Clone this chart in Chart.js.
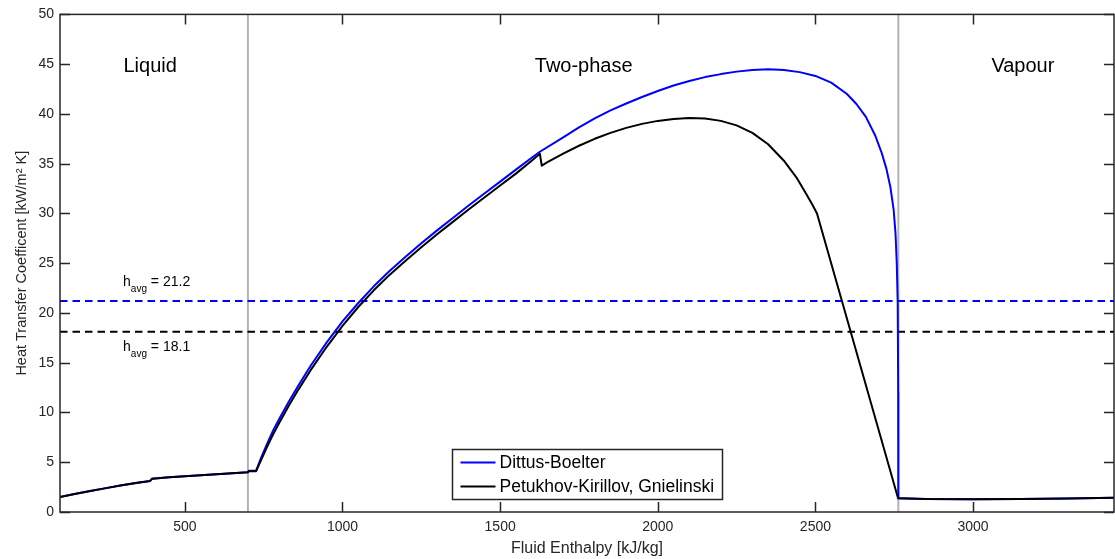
<!DOCTYPE html>
<html>
<head>
<meta charset="utf-8">
<script src="https://cdn.jsdelivr.net/npm/chart.js@4.4.0/dist/chart.umd.min.js"></script>
<style>
  html, body { margin: 0; padding: 0; background: #fff; }
  #wrap { width: 1115px; height: 559px; }
</style>
</head>
<body>
<div id="wrap"><canvas id="chart" width="1115" height="559"></canvas></div>
<script>
// values
// enthalpy in kJ/kg, heat transfer coefficient in kW/m2 K
const dbEnthalpy = [104, 150, 200, 250, 300, 350, 390, 396, 450, 500, 550, 600, 650, 700, 703, 726,
  740, 760, 780, 800, 830, 860, 900, 950, 1000, 1050, 1100, 1150, 1200, 1250, 1300, 1350, 1400,
  1450, 1500, 1550, 1600, 1626, 1700, 1750, 1800, 1850, 1900, 1950, 2000, 2050, 2100, 2150, 2200,
  2250, 2300, 2350, 2400, 2450, 2500, 2550, 2600, 2630, 2660, 2690, 2710, 2725, 2738, 2748, 2754,
  2758, 2761, 2762.5, 2763, 2850, 3000, 3150, 3300, 3447];
const dbHtc = [1.5, 1.8, 2.1, 2.4, 2.68, 2.93, 3.12, 3.35, 3.5, 3.6, 3.7, 3.8, 3.9, 4.0, 4.15, 4.15,
  5.3, 6.8, 8.2, 9.4, 11.1, 12.7, 14.75, 17.05, 19.15, 21.0, 22.7, 24.25, 25.65, 27.0, 28.3, 29.55, 30.8,
  32.0, 33.2, 34.4, 35.6, 36.2, 37.65, 38.65, 39.55, 40.35, 41.05, 41.7, 42.3, 42.85, 43.3, 43.7, 44.0,
  44.25, 44.42, 44.5, 44.42, 44.2, 43.82, 43.15, 42.0, 41.0, 39.7, 37.8, 36.1, 34.5, 32.6, 30.4, 28.0,
  25.0, 21.0, 12.0, 1.35, 1.3, 1.28, 1.3, 1.35, 1.42];

const pkEnthalpy = [104, 150, 200, 250, 300, 350, 390, 396, 450, 500, 550, 600, 650, 700, 703, 726,
  740, 760, 780, 800, 830, 860, 900, 950, 1000, 1050, 1100, 1150, 1200, 1250, 1300, 1350, 1400,
  1450, 1500, 1550, 1600, 1626, 1632, 1650, 1700, 1750, 1800, 1850, 1900, 1950, 2000, 2050, 2100,
  2150, 2200, 2250, 2300, 2350, 2400, 2440, 2470, 2490, 2505, 2762, 2850, 3000, 3150, 3300, 3447];
const pkHtc = [1.5, 1.8, 2.1, 2.4, 2.68, 2.93, 3.12, 3.35, 3.5, 3.6, 3.7, 3.8, 3.9, 4.0, 4.1, 4.1,
  5.1, 6.5, 7.8, 9.0, 10.7, 12.3, 14.3, 16.6, 18.7, 20.6, 22.3, 23.85, 25.25, 26.6, 27.9, 29.15, 30.4,
  31.6, 32.8, 34.0, 35.3, 36.0, 34.8, 35.15, 36.0, 36.8, 37.5, 38.1, 38.6, 39.0, 39.3, 39.5, 39.6,
  39.55, 39.3, 38.85, 38.1, 36.95, 35.3, 33.6, 32.0, 30.9, 30.0, 1.4, 1.3, 1.28, 1.3, 1.35, 1.42];

const seriesNames = ["Dittus-Boelter", "Petukhov-Kirillov, Gnielinski"];
const hAvg = [21.2, 18.1];
const phaseBounds = [700, 2763];
const phaseNames = ["Liquid", "Two-phase", "Vapour"];
const xTicks = [500, 1000, 1500, 2000, 2500, 3000];
const yTicks = [0, 5, 10, 15, 20, 25, 30, 35, 40, 45, 50];
const xRange = [104, 3447];
const yRange = [0, 50];

// layout bits (not data)
const FONT = '"Liberation Sans", Arial, Helvetica, sans-serif';
const AXIS_COLOR = '#262626';
const phaseLabelX = [390, 1765, 3158];
const hAvgLabel = [{ x: 304, y: 22.7 }, { x: 304, y: 16.2 }];

function toPoints(xs, ys) {
  return xs.map((x, i) => ({ x: x, y: ys[i] }));
}

function hLine(y) {
  return [{ x: xRange[0], y: y }, { x: xRange[1], y: y }];
}

function vLine(x) {
  return [{ x: x, y: yRange[0] }, { x: x, y: yRange[1] }];
}

// axes box, inward ticks, region labels, h_avg labels and legend
const decor = {
  id: 'decor',
  afterDatasetsDraw(chart) {
    const ctx = chart.ctx;
    const a = chart.chartArea;
    const xs = chart.scales.x;
    const ys = chart.scales.y;
    const tl = 10;

    ctx.save();
    ctx.strokeStyle = AXIS_COLOR;
    ctx.lineWidth = 1.5;
    ctx.strokeRect(a.left, a.top, a.right - a.left, a.bottom - a.top);
    ctx.beginPath();
    xTicks.forEach((v) => {
      const px = Math.round(xs.getPixelForValue(v)) + 0.5;
      ctx.moveTo(px, a.bottom); ctx.lineTo(px, a.bottom - tl);
      ctx.moveTo(px, a.top); ctx.lineTo(px, a.top + tl);
    });
    yTicks.forEach((v) => {
      const py = Math.round(ys.getPixelForValue(v)) + 0.5;
      ctx.moveTo(a.left, py); ctx.lineTo(a.left + tl, py);
      ctx.moveTo(a.right, py); ctx.lineTo(a.right - tl, py);
    });
    ctx.stroke();

    // phase names
    ctx.fillStyle = '#000';
    ctx.font = '20px ' + FONT;
    ctx.textAlign = 'center';
    ctx.textBaseline = 'alphabetic';
    phaseNames.forEach((name, i) => {
      ctx.fillText(name, xs.getPixelForValue(phaseLabelX[i]), a.top + 58);
    });

    // h_avg labels
    ctx.textAlign = 'left';
    hAvg.forEach((v, i) => {
      let px = xs.getPixelForValue(hAvgLabel[i].x);
      const py = ys.getPixelForValue(hAvgLabel[i].y);
      ctx.font = '14px ' + FONT;
      ctx.fillText('h', px, py);
      px += ctx.measureText('h').width;
      ctx.font = '10px ' + FONT;
      ctx.fillText('avg', px, py + 6);
      px += ctx.measureText('avg').width;
      ctx.font = '14px ' + FONT;
      ctx.fillText(' = ' + v.toFixed(1), px, py);
    });

    // legend box
    const bw = 270, bh = 50;
    const bx = Math.round((a.left + a.right) / 2 - bw / 2) + 0.5;
    const by = Math.round(a.bottom - 13 - bh) + 0.5;
    ctx.fillStyle = '#fff';
    ctx.fillRect(bx, by, bw, bh);
    ctx.strokeStyle = AXIS_COLOR;
    ctx.lineWidth = 1.5;
    ctx.strokeRect(bx, by, bw, bh);
    const colors = ['#0000ff', '#000000'];
    ctx.font = '17.5px ' + FONT;
    ctx.textBaseline = 'middle';
    seriesNames.forEach((name, i) => {
      const ly = by + 13 + i * 24;
      ctx.strokeStyle = colors[i];
      ctx.lineWidth = 2;
      ctx.beginPath();
      ctx.moveTo(bx + 8, ly); ctx.lineTo(bx + 43, ly);
      ctx.stroke();
      ctx.fillStyle = '#000';
      ctx.fillText(name, bx + 47, ly + 1);
    });
    ctx.restore();
  }
};

const lineStyle = { pointRadius: 0, fill: false, tension: 0, borderJoinStyle: 'round' };

new Chart(document.getElementById('chart'), {
  type: 'line',
  data: {
    datasets: [
      Object.assign({ label: seriesNames[1], data: toPoints(pkEnthalpy, pkHtc), borderColor: '#000000', borderWidth: 2 }, lineStyle),
      Object.assign({ label: seriesNames[0], data: toPoints(dbEnthalpy, dbHtc), borderColor: '#0000ff', borderWidth: 2 }, lineStyle),
      { label: 'avg1', data: hLine(hAvg[0]), borderColor: '#0000ff', borderWidth: 2, borderDash: [7.5, 5], pointRadius: 0 },
      { label: 'avg2', data: hLine(hAvg[1]), borderColor: '#000000', borderWidth: 2, borderDash: [7.5, 5], pointRadius: 0 },
      { label: 'b1', data: vLine(phaseBounds[0]), borderColor: '#b3b3b3', borderWidth: 2, pointRadius: 0 },
      { label: 'b2', data: vLine(phaseBounds[1]), borderColor: '#b3b3b3', borderWidth: 2, pointRadius: 0 }
    ]
  },
  options: {
    responsive: false,
    animation: false,
    devicePixelRatio: 1,
    layout: { padding: { top: 12, right: 1, left: 0, bottom: 0 } },
    plugins: { legend: { display: false }, tooltip: { enabled: false } },
    scales: {
      x: {
        type: 'linear',
        min: xRange[0],
        max: xRange[1],
        afterBuildTicks: (s) => { s.ticks = xTicks.map((v) => ({ value: v })); },
        afterFit: (s) => { s.height = 47; },
        grid: { display: false, drawTicks: false },
        border: { display: false },
        ticks: { color: AXIS_COLOR, font: { family: FONT, size: 14 }, padding: 7, maxRotation: 0, callback: (v) => String(v) },
        title: { display: true, text: 'Fluid Enthalpy [kJ/kg]', color: AXIS_COLOR, font: { family: FONT, size: 16 }, padding: { top: 0, bottom: 1 } }
      },
      y: {
        type: 'linear',
        min: yRange[0],
        max: yRange[1],
        afterBuildTicks: (s) => { s.ticks = yTicks.map((v) => ({ value: v })); },
        afterFit: (s) => { s.width = 60; },
        grid: { display: false, drawTicks: false },
        border: { display: false },
        ticks: { color: AXIS_COLOR, font: { family: FONT, size: 14 }, padding: 6, callback: (v) => String(v) },
        title: { display: true, text: 'Heat Transfer Coefficent [kW/m\u00b2 K]', color: AXIS_COLOR, font: { family: FONT, size: 14.5 }, padding: { top: 13, bottom: 0 } }
      }
    }
  },
  plugins: [decor]
});
</script>
</body>
</html>
